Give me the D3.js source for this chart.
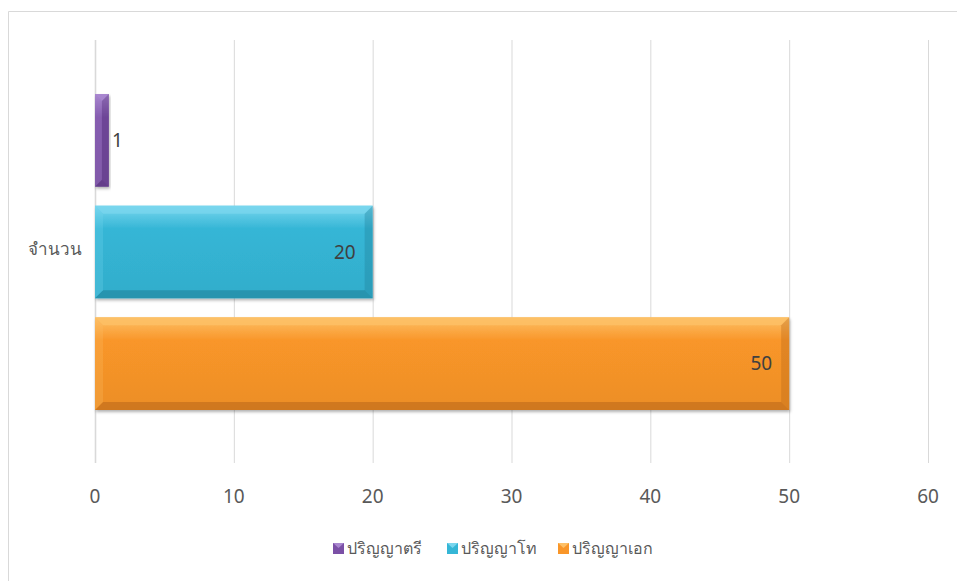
<!DOCTYPE html>
<html><head><meta charset="utf-8">
<script src="https://cdn.jsdelivr.net/npm/d3@7"></script>
<style>body{margin:0;background:#fff;}svg{display:block;font-family:"Noto Sans","DejaVu Sans",sans-serif;}</style>
</head><body><svg id="c" width="957" height="581"></svg>
<script>
const categories = ["จำนวน"];
const seriesNames = ["ปริญญาตรี", "ปริญญาโท", "ปริญญาเอก"];
const seriesValues = [1, 20, 50];
const ticks = [0, 10, 20, 30, 40, 50, 60];
const colors = [
  {main:"#7b50a6", light:"#a987cf", dark:"#55337a"},
  {main:"#35b6d6", light:"#79d6ee", dark:"#1f7f98"},
  {main:"#f99629", light:"#fdc067", dark:"#b8661a"}
];

const svg = d3.select("#c");
svg.append("path").attr("d","M8.5,581 L8.5,11.5 L957,11.5").attr("fill","none").attr("stroke","#d9d9d9").attr("stroke-width",1);

const x = d3.scaleLinear().domain([0,60]).range([95,928]);
const y0 = d3.scaleBand().domain(categories).range([40,463]);
const y1 = d3.scaleBand().domain(seriesNames).range([y0(categories[0]) + 54, y0(categories[0]) + 54 + 316]).paddingInner(0.17);

svg.append("g").selectAll("line").data(ticks).join("line")
  .attr("x1",d=>x(d)+0.5).attr("x2",d=>x(d)+0.5).attr("y1",40).attr("y2",463)
  .attr("stroke","#d9d9d9").attr("stroke-width",d=>d===0?1.6:1);

svg.append("g").selectAll("text").data(ticks).join("text")
  .attr("x",d=>x(d)).attr("y",503).attr("text-anchor","middle")
  .attr("font-size",19).attr("fill","#595959").text(d=>d);

svg.append("text").attr("x",55).attr("y",y0(categories[0])+y0.bandwidth()/2-2).attr("dy","0.35em")
  .attr("text-anchor","middle").attr("font-size",17).attr("fill","#595959").text(categories[0]);

const defs = svg.append("defs");
colors.forEach((c,i)=>{
  const g = defs.append("linearGradient").attr("id","g"+i).attr("x1",0).attr("x2",0).attr("y1",0).attr("y2",1);
  g.append("stop").attr("offset","0%").attr("stop-color",c.light);
  g.append("stop").attr("offset","25%").attr("stop-color",c.main);
  g.append("stop").attr("offset","100%").attr("stop-color",d3.color(c.main).darker(0.15));
});
const sh = defs.append("filter").attr("id","sh").attr("x","-5%").attr("y","-10%").attr("width","115%").attr("height","130%");
sh.append("feDropShadow").attr("dx",1).attr("dy",2).attr("stdDeviation",1.5).attr("flood-color","#000").attr("flood-opacity",0.3);

const bars = svg.append("g");
seriesNames.forEach((s,i)=>{
  const v = seriesValues[i];
  const bx = x(0), bw = x(v)-x(0), by = y1(s), bh = y1.bandwidth();
  const b = Math.min(8, bw/2, bh/2);
  const c = colors[i];
  const g = bars.append("g");
  g.append("rect").attr("x",bx).attr("y",by).attr("width",bw).attr("height",bh).attr("fill","url(#g"+i+")").attr("filter","url(#sh)");
  g.append("path").attr("d",`M${bx},${by} L${bx+bw},${by} L${bx+bw-b},${by+b} L${bx+b},${by+b} Z`).attr("fill",c.light).attr("opacity",0.8);
  g.append("path").attr("d",`M${bx},${by+bh} L${bx+bw},${by+bh} L${bx+bw-b},${by+bh-b} L${bx+b},${by+bh-b} Z`).attr("fill",c.dark).attr("opacity",0.55);
  g.append("path").attr("d",`M${bx+bw},${by} L${bx+bw},${by+bh} L${bx+bw-b},${by+bh-b} L${bx+bw-b},${by+b} Z`).attr("fill",c.dark).attr("opacity",0.35);
  g.append("path").attr("d",`M${bx},${by} L${bx},${by+bh} L${bx+b},${by+bh-b} L${bx+b},${by+b} Z`).attr("fill",c.light).attr("opacity",0.25);
  const inside = bw > 40;
  g.append("text").attr("x", inside ? x(v)-17 : x(v)+3).attr("y",by+bh/2).attr("dy","0.35em")
    .attr("text-anchor", inside ? "end" : "start").attr("font-size",19).attr("fill","#404040").text(v);
});

const legX = [333, 447, 558];
const lg = svg.append("g");
seriesNames.forEach((s,i)=>{
  const c = colors[i];
  const lx = legX[i], ly = 543;
  lg.append("rect").attr("x",lx).attr("y",ly).attr("width",11).attr("height",11).attr("fill",c.main);
  lg.append("path").attr("d",`M${lx},${ly} L${lx+11},${ly} L${lx+5.5},${ly+5}Z`).attr("fill",c.light);
  lg.append("text").attr("x",lx+14).attr("y",ly+5.5).attr("dy","0.35em").attr("font-size",16).attr("fill","#595959").text(s);
});
</script></body></html>
